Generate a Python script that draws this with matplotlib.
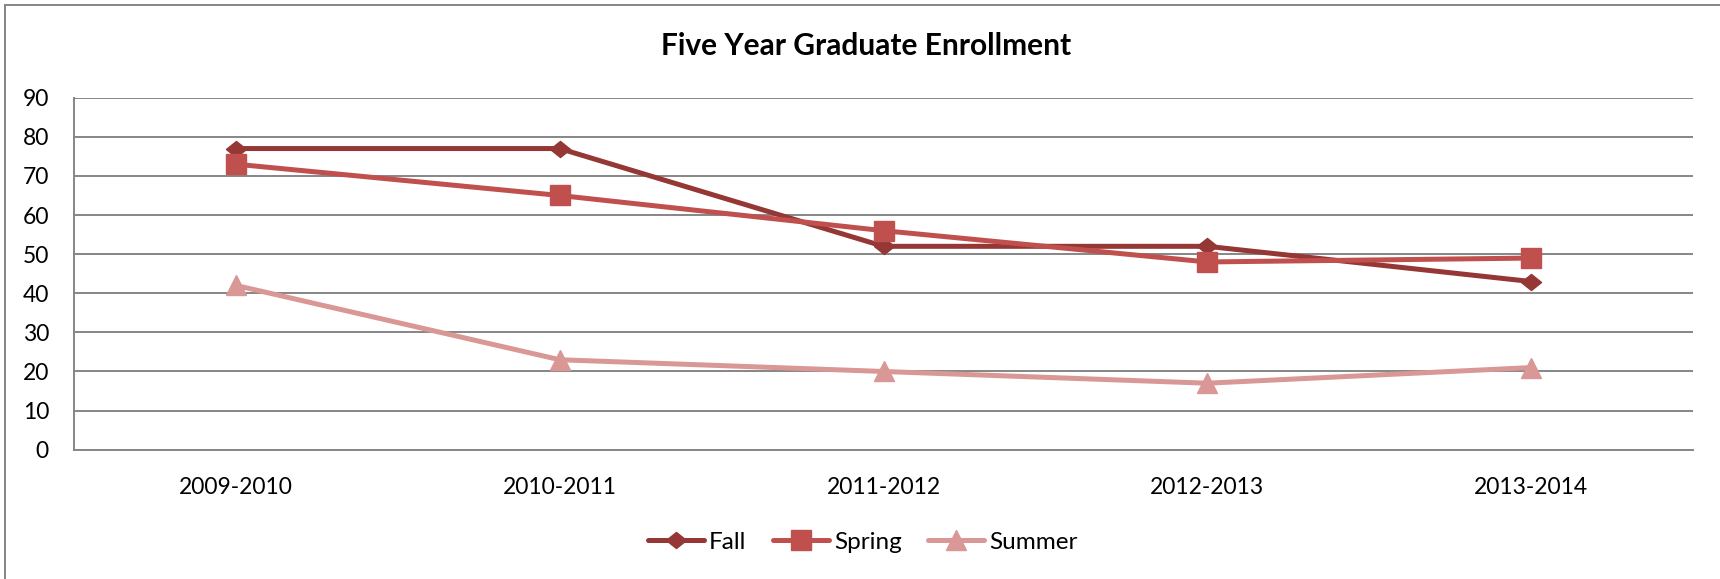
import matplotlib
matplotlib.use("Agg")
import matplotlib.pyplot as plt
from matplotlib.patches import Rectangle
import numpy as np

# chart data
years = ['2009-2010', '2010-2011', '2011-2012', '2012-2013', '2013-2014']
fall = [77, 77, 52, 52, 43]
spring = [73, 65, 56, 48, 49]
summer = [42, 23, 20, 17, 21]

plt.rcParams['font.family'] = ['Lato', 'DejaVu Sans']

W, H = 1720, 579
fig = plt.figure(figsize=(W / 100, H / 100), dpi=100)
ax = fig.add_axes([74 / W, 1 - 449.7 / H, (1693 - 74) / W, (449.7 - 97.7) / H])

x = np.arange(len(years))
grid_col = '#868686'

diamond = [(-1, 0), (0, 0.8), (1, 0), (0, -0.8), (-1, 0)]
ax.plot(x, fall, color='#953735', lw=3.6, marker=diamond, ms=14.5,
        label='Fall', solid_capstyle='round', zorder=3)
ax.plot(x, spring, color='#C0504D', lw=3.6, marker='s', ms=14.2,
        label='Spring', solid_capstyle='round', zorder=3)
ax.plot(x, summer, color='#D99795', lw=3.6, marker='^', ms=15,
        label='Summer', solid_capstyle='round', zorder=3)

ax.set_xlim(-0.5, len(years) - 0.5)
ax.set_ylim(0, 90)
ax.set_yticks(range(0, 91, 10))
ax.set_xticks(x)
ax.set_xticklabels(years)
ax.yaxis.grid(True, color=grid_col, lw=1.4)
ax.set_axisbelow(True)
for s in ['top', 'right']:
    ax.spines[s].set_visible(False)
ax.spines['left'].set_color(grid_col)
ax.spines['left'].set_linewidth(1.4)
ax.spines['bottom'].set_color(grid_col)
ax.spines['bottom'].set_linewidth(1.4)
ax.tick_params(axis='both', length=0, labelsize=16.5, colors='black')
ax.tick_params(axis='y', pad=18)
ax.tick_params(axis='x', pad=20)

fig.text(866 / W, 1 - 46 / H, 'Five Year Graduate Enrollment', ha='center', va='center',
         fontsize=21.5, fontweight='bold')

leg = fig.legend(loc='center', bbox_to_anchor=(863 / W, 1 - 542 / H), ncol=3, frameon=False,
                 fontsize=17.5, handlelength=2.3, handletextpad=0.2, columnspacing=1.1)

# outer chart border (only left and top visible)
fig.add_artist(Rectangle((4.5 / W, -0.1), 1.2, 1 - 5 / H + 0.1, transform=fig.transFigure,
                         fill=False, edgecolor=grid_col, lw=1.4, clip_on=False))

fig.savefig('out.png', dpi=100)
